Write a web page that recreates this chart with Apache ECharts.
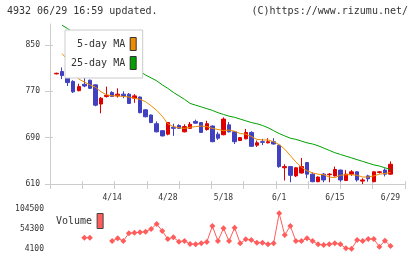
<!DOCTYPE html>
<html>
<head>
<meta charset="utf-8">
<script src="https://cdn.jsdelivr.net/npm/echarts@6/dist/echarts.min.js"></script>
<style>
  html, body { margin: 0; padding: 0; background: #fff; }
  #chart { width: 420px; height: 259px; }
</style>
</head>
<body>
<div id="chart"></div>
<script>
// 日付 (営業日)
const dates = ['3/31','4/1','4/2','4/3','4/6','4/7','4/8','4/9','4/10','4/13',
  '4/14','4/15','4/16','4/17','4/20','4/21','4/22','4/23','4/24','4/27',
  '4/28','4/30','5/1','5/7','5/8','5/11','5/12','5/13','5/14','5/15',
  '5/18','5/19','5/20','5/21','5/22','5/25','5/26','5/27','5/28','5/29',
  '6/1','6/2','6/3','6/4','6/5','6/8','6/9','6/10','6/11','6/12',
  '6/15','6/16','6/17','6/18','6/19','6/22','6/23','6/24','6/25','6/26',
  '6/29']

const opens  = [800,804,799,787,771,782,789,781,748,761, 768,762,765,765,758,760,738,729,714,702,
  696,708,711,700,706,718,716,704,710,696, 695,712,700,685,688,699,677,683,681,683,
  677,638,640,624,629,647,627,614,627,626, 624,634,616,627,631,615,624,614,630,634, 627]
const closes = [801,797,785,769,778,779,775,746,758,763, 761,765,762,749,762,733,726,716,700,693,
  716,706,706,709,713,715,699,714,683,689, 722,700,683,690,699,675,681,682,683,679,
  640,640,625,638,640,627,614,622,617,627, 635,617,627,631,617,617,619,631,631,627, 644]
const lows   = [799,791,779,767,770,777,774,744,732,759, 760,759,758,748,750,732,725,715,699,692,
  694,693,705,699,705,714,698,702,682,686, 694,699,679,684,687,674,674,677,680,678,
  638,616,613,622,628,620,613,613,613,613, 623,614,615,624,614,610,614,613,628,623, 626]
const highs  = [802,811,801,789,783,796,790,782,760,778, 770,775,770,767,765,761,739,730,718,703,
  717,714,713,713,717,721,717,719,711,700, 725,717,701,691,705,701,685,688,689,689,
  678,644,641,639,655,648,630,623,629,629, 640,635,634,634,632,620,626,632,632,637, 649]

// 移動平均
const ma5 = ['-',835,824,807,791,786,781,777,769,764, 762,762,761,760,758,756,752,745,737,727,
  714,709,707,706,708,709,710,709,706,704, 702,703,701,697,696,692,687,686,686,683,
  678,670,659,648,639,633,629,627,626,622, 621,625,626,626,625,622,622,624,627,628, 630]
const ma25 = ['-',884,878,872,866,861,855,849,844,838, 832,827,821,815,810,804,798,793,788,781,
  775,768,762,756,749,746,743,740,737,733, 730,727,725,722,719,716,714,711,707,702,
  697,693,689,687,684,681,679,676,672,668, 664,661,658,655,652,649,646,643,641,638, 635]

// 出来高
const volumes = ['-','-','-','-','-',32500,32500,'-','-','-',
  24200,31000,24200,43500,45000,46000,47600,54300,66900,49300,
  29200,33500,22400,24200,16700,15900,18400,21700,61800,24200,
  56000,24200,57600,18400,28400,26700,19900,19900,15900,18400,
  93700,39200,61800,24200,24200,31000,24200,15900,14100,15900,
  18400,15900,5900,4500,26700,24200,29200,29200,9900,25000, 11600]

const priceTicks = [610, 690, 770, 850]
const volumeTicks = [4100, 54300, 104500]

const FONT = 'DejaVu Sans Mono'
const AXIS_COLOR = '#cccccc'
const TEXT_COLOR = '#333333'
const UP = '#dd0000'
const DOWN = '#4040c0'
const VOL = '#ff5c5c'

const candles = dates.map((d, i) => [opens[i], closes[i], lows[i], highs[i]])

// 描画領域 (データ用と軸線用を分ける)
const band = 5.567
const dataLeft = 53.7
const dataWidth = band * dates.length

const chart = echarts.init(document.getElementById('chart'), null, { renderer: 'canvas' })
const option = {
  animation: false,
  backgroundColor: '#fff',
  textStyle: { fontFamily: FONT },
  title: [
    { text: '4932 06/29 16:59 updated.', left: 7, top: 6, padding: 0,
      textStyle: { fontFamily: FONT, fontSize: 10, fontWeight: 'normal', color: TEXT_COLOR } },
    { text: '(C)https://www.rizumu.net/', right: 12, top: 6, padding: 0,
      textStyle: { fontFamily: FONT, fontSize: 10, fontWeight: 'normal', color: TEXT_COLOR } }
  ],
  legend: [
    {
      data: ['5-day MA', '25-day MA'],
      orient: 'vertical',
      align: 'right',
      left: 65, top: 30,
      padding: [7, 6, 8, 6],
      itemWidth: 6, itemHeight: 13, itemGap: 5,
      icon: 'rect',
      backgroundColor: '#fff',
      borderColor: AXIS_COLOR, borderWidth: 1,
      itemStyle: { borderColor: '#333', borderWidth: 1 },
      formatter: name => name.padStart(9, ' '),
      textStyle: { fontFamily: FONT, fontSize: 10, color: TEXT_COLOR }
    },
    {
      data: ['Volume'],
      align: 'right',
      left: 56, top: 213, padding: 0,
      itemWidth: 6, itemHeight: 15,
      icon: 'rect',
      itemStyle: { borderColor: '#444', borderWidth: 1 },
      textStyle: { fontFamily: FONT, fontSize: 10, color: TEXT_COLOR }
    }
  ],
  grid: [
    { left: dataLeft, top: 24, width: dataWidth, height: 160 },
    { left: 50, top: 24, width: 355, height: 160 },
    { left: dataLeft, top: 209, width: dataWidth, height: 40 }
  ],
  xAxis: [
    {
      type: 'category', gridIndex: 0, data: dates, boundaryGap: true,
      axisLine: { show: false }, axisTick: { show: false },
      axisLabel: {
        interval: idx => idx > 0 && idx % 10 === 0,
        margin: 10, fontFamily: FONT, fontSize: 8, color: TEXT_COLOR
      },
      splitLine: { show: false }
    },
    // 軸線と目盛 (外側)
    {
      type: 'value', gridIndex: 1, min: 0, max: 11, interval: 1, position: 'bottom',
      axisLine: { show: true, onZero: false, lineStyle: { color: AXIS_COLOR } },
      axisTick: { show: true, length: 5, lineStyle: { color: AXIS_COLOR } },
      axisLabel: { show: false }, splitLine: { show: false }
    },
    // 目盛 (内側)
    {
      type: 'value', gridIndex: 1, min: 0, max: 11, interval: 1, position: 'bottom',
      axisLine: { show: false, onZero: false },
      axisTick: { show: true, inside: true, length: 3, lineStyle: { color: AXIS_COLOR } },
      axisLabel: { show: false }, splitLine: { show: false }
    },
    {
      type: 'category', gridIndex: 2, data: dates, boundaryGap: true,
      axisLine: { show: false }, axisTick: { show: false },
      axisLabel: { show: false }, splitLine: { show: false }
    }
  ],
  yAxis: [
    {
      type: 'value', gridIndex: 0, min: 610, max: 886, offset: dataLeft - 50,
      axisLine: { show: true, lineStyle: { color: AXIS_COLOR } },
      axisTick: { show: true, length: 5, customValues: priceTicks, lineStyle: { color: AXIS_COLOR } },
      axisLabel: { customValues: priceTicks, margin: 10, fontFamily: FONT, fontSize: 8, color: TEXT_COLOR,
        formatter: v => String(v) },
      splitLine: { show: false }
    },
    {
      type: 'value', gridIndex: 0, min: 610, max: 886, offset: dataLeft - 50, position: 'left',
      axisLine: { show: false },
      axisTick: { show: true, inside: true, length: 3, customValues: priceTicks, lineStyle: { color: AXIS_COLOR } },
      axisLabel: { show: false }, splitLine: { show: false }
    },
    {
      type: 'value', gridIndex: 1, min: 0, max: 1, show: false
    },
    {
      type: 'value', gridIndex: 2, min: 4100, max: 104500,
      axisLine: { show: false }, axisTick: { show: false },
      axisLabel: { customValues: volumeTicks, margin: 9.7, fontFamily: FONT, fontSize: 8, color: TEXT_COLOR,
        formatter: v => String(v) },
      splitLine: { show: false }
    }
  ],
  series: [
    {
      name: 'price', type: 'candlestick', xAxisIndex: 0, yAxisIndex: 0,
      data: candles, barWidth: 4,
      itemStyle: { color: UP, color0: DOWN, borderColor: UP, borderColor0: DOWN, borderWidth: 1 }
    },
    {
      name: '5-day MA', type: 'line', xAxisIndex: 0, yAxisIndex: 0, data: ma5,
      symbol: 'none', z: 3, color: '#f08c00', lineStyle: { width: 1, color: '#f08c00' }
    },
    {
      name: '25-day MA', type: 'line', xAxisIndex: 0, yAxisIndex: 0, data: ma25,
      symbol: 'none', z: 3, color: '#00a000', lineStyle: { width: 1, color: '#00a000' }
    },
    {
      name: 'Volume', type: 'line', xAxisIndex: 3, yAxisIndex: 3, data: volumes,
      symbol: 'diamond', symbolSize: 6, showAllSymbol: true, color: VOL,
      lineStyle: { width: 1, color: VOL }, itemStyle: { color: VOL, opacity: 1 }
    }
  ]
}
chart.setOption(option)
</script>
</body>
</html>
